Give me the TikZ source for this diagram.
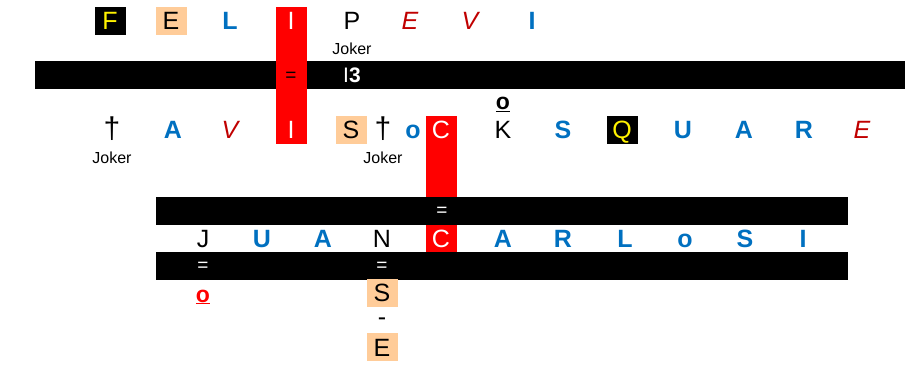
\documentclass[tikz,border=0pt]{standalone}
\usepackage{fontspec}
\setmainfont{Liberation Sans}
\usetikzlibrary{positioning}
\definecolor{tileblue}{HTML}{0070C0}
\definecolor{tilered}{HTML}{C00000}
\definecolor{tilepeach}{HTML}{FFCC99}
\begin{document}
\begin{tikzpicture}[x=1pt, y=-1pt,
  letter/.style={inner sep=0pt, minimum width=31pt, minimum height=28pt,
    text height=18pt, text depth=0pt, font=\fontsize{25}{30}\selectfont},
  plain/.style={letter},
  dag/.style={letter, font=\fontsize{30}{34}\selectfont},
  blu/.style={letter, text=tileblue, font=\fontsize{25}{30}\selectfont\bfseries},
  ital/.style={letter, text=tilered, font=\fontsize{25}{30}\selectfont\itshape},
  peach/.style={letter, fill=tilepeach},
  blackq/.style={letter, fill=black, text=yellow},
  onred/.style={letter, text=white},
  joker/.style={font=\fontsize{16}{19}\selectfont, inner sep=0pt},
  eq/.style={font=\fontsize{19}{22}\selectfont, inner sep=0pt}]
  \useasboundingbox (0,0) rectangle (905,366);
  % the black bands, with the red columns crossing them
  \fill (35,61) rectangle (905,89);
  \fill[red] (276,7) rectangle (307,144);
  \fill[red] (426,116) rectangle (457,252);
  \fill (156,197) rectangle (848,225);
  \fill (156,252) rectangle (848,280);
  % first row
  \foreach \x/\c/\s [count=\i] in {110/F/blackq, 171/E/peach, 230/L/blu, 291/I/onred,
      352/P/plain, 410/E/ital, 470/V/ital, 532/I/blu}
    \node[\s] (top\i) at (\x,21) {\c};
  % second row
  \foreach \x/\c/\s [count=\i] in {112/†/dag, 173/A/blu, 230/V/ital, 291/I/onred,
      351/S/peach, 383/†/dag, 413/o/blu, 441/C/onred, 503/K/plain, 563/S/blu,
      622/Q/blackq, 683/U/blu, 744/A/blu, 804/R/blu, 862/E/ital}
    \node[\s] (mid\i) at (\x,130) {\c};
  % third row
  \foreach \x/\c/\s [count=\i] in {203/J/plain, 262/U/blu, 323/A/blu, 382/N/plain,
      441/C/onred, 503/A/blu, 563/R/blu, 625/L/blu, 685/o/blu, 745/S/blu, 803/I/blu}
    \node[\s] (low\i) at (\x,238.5) {\c};
  % the tail under N
  \node[peach] (tailS) at (382,292.5) {S};
  \node[font=\fontsize{25}{30}\selectfont, inner sep=0pt] (dash) at (382,322) {-};
  \node[peach] (tailE) at (382,347) {E};
  % small marks
  \node[joker, below=7.5pt of top5] (joker1) {Joker};
  \node[joker, below=7.5pt of mid1] (joker2) {Joker};
  \node[joker, below=7.5pt of mid6] (joker3) {Joker};
  \node[anchor=base, inner sep=0pt, text=white, font=\fontsize{21}{25}\selectfont]
    (clue) at (352,83) {I\textbf{3}};
  \node[eq] (eq1) at (291,77) {=};
  \node[eq, text=white] (eq2) at (442,212) {=};
  \node[eq, text=white] (eq3) at (203,267) {=};
  \node[eq, text=white] (eq4) at (382,267) {=};
  \node[anchor=base, inner sep=0pt, font=\fontsize{23}{27}\selectfont\bfseries]
    (mark1) at (503,110) {\underline{o}};
  \node[anchor=base, inner sep=0pt, text=red, font=\fontsize{23}{27}\selectfont\bfseries]
    (mark2) at (203,302) {\underline{o}};
\end{tikzpicture}
\end{document}
